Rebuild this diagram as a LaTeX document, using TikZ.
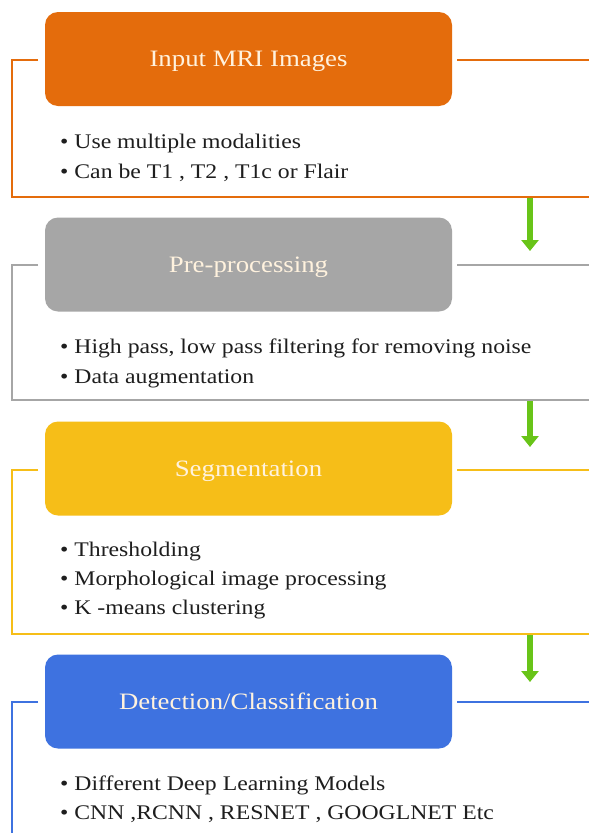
\documentclass[tikz,border=0pt]{standalone}
\usepackage{fontspec}
\setmainfont[FakeStretch=1.14]{Liberation Serif}
\usetikzlibrary{arrows.meta}
\definecolor{corange}{RGB}{228,108,12}
\definecolor{cgray}{RGB}{166,166,166}
\definecolor{cyellow}{RGB}{246,190,24}
\definecolor{cblue}{RGB}{62,114,224}
\definecolor{cgreen}{RGB}{104,196,24}
\definecolor{ctext}{RGB}{30,30,30}
\definecolor{ctitle}{RGB}{255,242,222}
\tikzset{
  titlebox/.style={rectangle, rounded corners=13pt, minimum width=407pt, minimum height=94pt, inner sep=0pt, text depth=0pt, text=ctitle, font=\fontsize{23.5}{28}\selectfont},
  frameline/.style={line width=2pt},
  bul/.style={anchor=base west, inner sep=0pt, text=ctext, font=\fontsize{20.8}{25}\selectfont},
  garrow/.style={draw=cgreen, line width=6.5pt, -{Triangle[width=17pt,length=11pt]}}
}
\begin{document}
\begin{tikzpicture}[x=1pt,y=-1pt]
\useasboundingbox (0,0) rectangle (589,833);
\fill[white] (0,0) rectangle (589,833);

% Section 1
\node[titlebox, fill=corange] (t1) at (248.5,59) {Input MRI Images};
\draw[frameline, draw=corange] (38,60) -- (12,60) -- (12,197) -- (589,197);
\draw[frameline, draw=corange] (457,60) -- (589,60);
\node[bul] (b11) at (60,148) {\textbullet\ Use multiple modalities};
\node[bul] (b12) at (60,178) {\textbullet\ Can be T1 , T2 , T1c or Flair};

% Section 2
\node[titlebox, fill=cgray] (t2) at (248.5,264.5) {Pre-processing};
\draw[frameline, draw=cgray] (38,265) -- (12,265) -- (12,400) -- (589,400);
\draw[frameline, draw=cgray] (457,265) -- (589,265);
\node[bul] (b21) at (60,353) {\textbullet\ High pass, low pass filtering for removing noise};
\node[bul] (b22) at (60,383) {\textbullet\ Data augmentation};

% Section 3
\node[titlebox, fill=cyellow] (t3) at (248.5,468.5) {Segmentation};
\draw[frameline, draw=cyellow] (38,470) -- (12,470) -- (12,634) -- (589,634);
\draw[frameline, draw=cyellow] (457,470) -- (589,470);
\node[bul] (b31) at (60,556) {\textbullet\ Thresholding};
\node[bul] (b32) at (60,585) {\textbullet\ Morphological image processing};
\node[bul] (b33) at (60,614) {\textbullet\ K -means clustering};

% Section 4
\node[titlebox, fill=cblue] (t4) at (248.5,701.5) {Detection/Classification};
\draw[frameline, draw=cblue] (38,702) -- (12,702) -- (12,833);
\draw[frameline, draw=cblue] (457,702) -- (589,702);
\node[bul] (b41) at (60,790) {\textbullet\ Different Deep Learning Models};
\node[bul] (b42) at (60,819) {\textbullet\ CNN ,RCNN , RESNET , GOOGLNET Etc};

% Arrows
\coordinate (a1s) at (530,198);
\coordinate (a1e) at (530,251);
\coordinate (a2s) at (530,401);
\coordinate (a2e) at (530,447);
\coordinate (a3s) at (530,635);
\coordinate (a3e) at (530,682);
\draw[garrow] (a1s) -- (a1e);
\draw[garrow] (a2s) -- (a2e);
\draw[garrow] (a3s) -- (a3e);
\end{tikzpicture}
\end{document}
